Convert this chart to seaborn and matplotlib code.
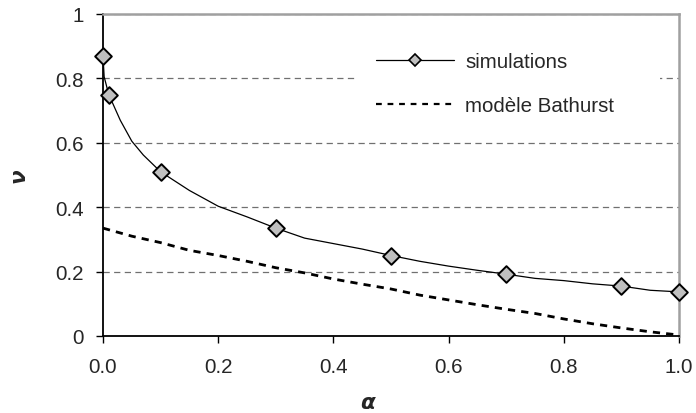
import matplotlib
matplotlib.use("Agg")
import matplotlib.pyplot as plt
from matplotlib.lines import Line2D
import seaborn as sns
import pandas as pd

# Simulations: smooth curve and its marked points
sim_curve_x = [0.0, 0.002, 0.01, 0.03, 0.05, 0.07, 0.1, 0.15, 0.2, 0.25, 0.3, 0.35,
               0.4, 0.45, 0.5, 0.55, 0.6, 0.65, 0.7, 0.75, 0.8, 0.85, 0.9, 0.95, 1.0]
sim_curve_y = [0.87, 0.805, 0.75, 0.67, 0.605, 0.562, 0.51, 0.452, 0.403, 0.37, 0.335, 0.304,
               0.287, 0.27, 0.25, 0.232, 0.217, 0.204, 0.192, 0.179, 0.172, 0.162, 0.155, 0.142, 0.137]
sim_marker_x = [0.0, 0.01, 0.1, 0.3, 0.5, 0.7, 0.9, 1.0]
sim_marker_y = [0.87, 0.75, 0.51, 0.335, 0.25, 0.193, 0.155, 0.137]

# Bathurst model
bath_x = [0.0, 0.05, 0.1, 0.15, 0.2, 0.25, 0.3, 0.35, 0.4, 0.45, 0.5,
          0.55, 0.6, 0.65, 0.7, 0.75, 0.8, 0.85, 0.9, 0.95, 1.0]
bath_y = [0.335, 0.31, 0.29, 0.266, 0.25, 0.232, 0.212, 0.196, 0.177, 0.161, 0.146,
          0.127, 0.112, 0.097, 0.083, 0.07, 0.053, 0.038, 0.025, 0.013, 0.003]

series_labels = ["simulations", "modèle Bathurst"]
x_ticks = [0.0, 0.2, 0.4, 0.6, 0.8, 1.0]
x_tick_labels = ["0.0", "0.2", "0.4", "0.6", "0.8", "1.0"]
y_ticks = [0, 0.2, 0.4, 0.6, 0.8, 1.0]
y_tick_labels = ["0", "0.2", "0.4", "0.6", "0.8", "1"]

sns.set_theme(style="white")
plt.rcParams["font.family"] = ["Liberation Sans", "DejaVu Sans"]

FS = 14.8

fig = plt.figure(figsize=(6.96, 4.14), dpi=100)
ax = fig.add_axes([103 / 696, 1 - 337 / 414, 576 / 696, 322 / 414])

df_curve = pd.DataFrame({"x": sim_curve_x, "y": sim_curve_y})
df_mark = pd.DataFrame({"x": sim_marker_x, "y": sim_marker_y})
df_bath = pd.DataFrame({"x": bath_x, "y": bath_y})

sns.lineplot(data=df_bath, x="x", y="y", ax=ax, color="black", lw=2.0,
             linestyle=(0, (2.6, 2.2)), sort=False, zorder=3)
sns.lineplot(data=df_curve, x="x", y="y", ax=ax, color="black", lw=0.9,
             sort=False, zorder=4)
sns.scatterplot(data=df_mark, x="x", y="y", ax=ax, marker="D", s=72,
                color="#c0c0c0", edgecolor="black", linewidth=1.4,
                zorder=5, clip_on=False)

ax.set_xlim(0, 1)
ax.set_ylim(0, 1)
ax.set_xticks(x_ticks)
ax.set_xticklabels(x_tick_labels)
ax.set_yticks(y_ticks)
ax.set_yticklabels(y_tick_labels)
ax.tick_params(axis="x", which="major", direction="out", length=5, width=1,
               color="black", pad=10, labelsize=FS, bottom=True)
ax.tick_params(axis="y", which="major", direction="out", length=5, width=1,
               color="black", pad=9, labelsize=FS, left=True)

ax.yaxis.grid(True, color="#707070", linestyle=(0, (5, 3.5)), lw=0.9)
ax.xaxis.grid(False)
ax.set_axisbelow(True)

for side in ["left", "bottom"]:
    ax.spines[side].set_color("black")
    ax.spines[side].set_linewidth(1.3)
for side in ["top", "right"]:
    ax.spines[side].set_color("#a0a0a0")
    ax.spines[side].set_linewidth(1.8)

ax.set_xlabel("α", fontsize=15.5, fontweight="bold", fontstyle="italic",
              family=["DejaVu Sans"])
ax.set_ylabel("ν", fontsize=15.5, fontweight="bold", fontstyle="italic",
              family=["DejaVu Sans"])
ax.xaxis.set_label_coords((367.5 - 103) / 576, (337 - 403) / 322)
ax.xaxis.label.set_va("center")
ax.yaxis.set_label_coords((19 - 103) / 576, 0.5)
ax.yaxis.label.set_va("center")

handles = [
    Line2D([], [], color="black", lw=0.9, marker="D", markersize=6.5,
           markerfacecolor="#c0c0c0", markeredgecolor="black", markeredgewidth=1.2),
    Line2D([], [], color="black", lw=1.6, linestyle=(0, (2.6, 2.6))),
]
leg = ax.legend(handles, series_labels, loc="upper left",
                bbox_to_anchor=((355 - 103) / 576, (337 - 36) / 322, (660 - 355) / 576, 0.01),
                mode="expand", frameon=True, fancybox=False, facecolor="white",
                edgecolor="none", framealpha=1, fontsize=FS, handlelength=3.8,
                handletextpad=0.55, labelspacing=1.2, borderpad=1.0, borderaxespad=0)
leg.set_zorder(6)

fig.savefig("out.png", dpi=100, facecolor="white")
